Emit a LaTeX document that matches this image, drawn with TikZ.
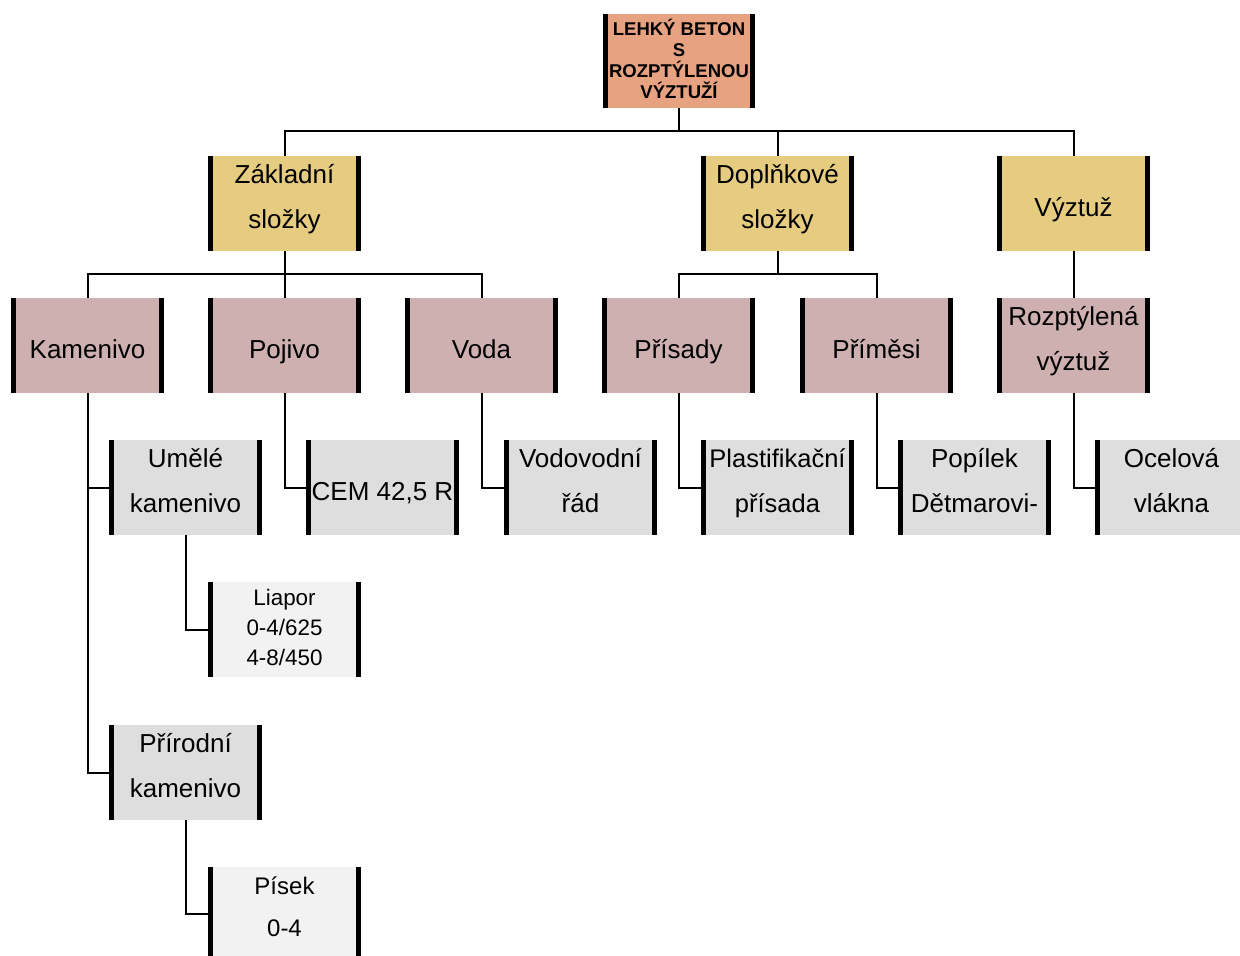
\documentclass[tikz,border=0pt]{standalone}
\usepackage{fontspec}
\setmainfont{Liberation Sans}
\definecolor{topc}{RGB}{231,162,130}
\definecolor{yelc}{RGB}{230,204,128}
\definecolor{pinkc}{RGB}{206,176,177}
\definecolor{greyc}{RGB}{222,222,222}
\definecolor{lightc}{RGB}{242,242,242}
\newcommand{\myst}{\vphantom{Ďy}}
\tikzset{
  bx/.style={minimum width=153pt, minimum height=95pt, inner sep=0pt, align=center,
    font=\fontsize{26}{45}\selectfont,
    execute at begin node=\myst, execute at end node=\myst,
    path picture={
      \fill[black] (path picture bounding box.south west) rectangle ([xshift=5pt]path picture bounding box.north west);
      \fill[black] (path picture bounding box.south east) rectangle ([xshift=-5pt]path picture bounding box.north east);
    }},
  oneline/.style={execute at begin node={\myst\rule{0pt}{32pt}}},
  twoline/.style={execute at end node={\myst\rule[-14pt]{0pt}{0pt}}},
  threeline/.style={execute at begin node={\myst\rule{0pt}{26pt}}},
  topbox/.style={bx, fill=topc, minimum width=152pt, minimum height=94pt, font=\fontsize{18.5}{21}\selectfont\bfseries},
  yelbox/.style={bx, fill=yelc},
  pinkbox/.style={bx, fill=pinkc},
  greybox/.style={bx, fill=greyc},
  lightbox/.style={bx, fill=lightc},
  conn/.style={draw=black, line width=2pt}
}
\begin{document}
\begin{tikzpicture}[x=1pt,y=-1pt]
\useasboundingbox (0,0) rectangle (1240,956);
\node[topbox] (top) at (679,61) {LEHKÝ BETON\\S\\ROZPTÝLENOU\\VÝZTUŽÍ};
\node[yelbox, twoline] (zak) at (284.5,203.5) {Základní\\složky};
\node[yelbox, twoline] (dop) at (777.5,203.5) {Doplňkové\\složky};
\node[yelbox, oneline] (vyz) at (1073.5,203.5) {Výztuž};
\node[pinkbox, oneline] (kam) at (87.5,345.5) {Kamenivo};
\node[pinkbox, oneline] (poj) at (284.5,345.5) {Pojivo};
\node[pinkbox, oneline] (voda) at (481.5,345.5) {Voda};
\node[pinkbox, oneline] (pris) at (678.5,345.5) {Přísady};
\node[pinkbox, oneline] (prim) at (876.5,345.5) {Příměsi};
\node[pinkbox, twoline] (rozp) at (1073.5,345.5) {Rozptýlená\\výztuž};
\node[greybox, twoline] (umele) at (185.5,487.5) {Umělé\\kamenivo};
\node[greybox, oneline] (cem) at (382.5,487.5) {CEM 42,5 R};
\node[greybox, twoline] (vodo) at (580.5,487.5) {Vodovodní\\řád};
\node[greybox, twoline, font=\fontsize{25.5}{45}\selectfont] (plast) at (777.5,487.5) {Plastifikační\\přísada};
\node[greybox, twoline] (popil) at (974.5,487.5) {Popílek\\Dětmarovi-};
\node[greybox, twoline] (ocel) at (1171.5,487.5) {Ocelová\\vlákna};
\node[lightbox, threeline, font=\fontsize{22.4}{30}\selectfont] (liapor) at (284.5,629.5) {Liapor\\0-4/625\\4-8/450};
\node[greybox, twoline] (prir) at (185.5,772.5) {Přírodní\\kamenivo};
\node[lightbox, twoline, font=\fontsize{24}{42}\selectfont] (pisek) at (284.5,914) {Písek\\0-4};
\coordinate (busA) at (0,131);
\coordinate (busB) at (0,274);
% level 1
\draw[conn] (top.south) -- (top.south |- busA);
\draw[conn] (zak.north) -- (zak.north |- busA) -- (vyz.north |- busA) -- (vyz.north);
\draw[conn] (dop.north) -- (dop.north |- busA);
% level 2
\draw[conn] (zak.south) -- (zak.south |- busB);
\draw[conn] (kam.north) -- (kam.north |- busB) -- (voda.north |- busB) -- (voda.north);
\draw[conn] (poj.north) -- (poj.north |- busB);
\draw[conn] (dop.south) -- (dop.south |- busB);
\draw[conn] (pris.north) -- (pris.north |- busB) -- (prim.north |- busB) -- (prim.north);
\draw[conn] (vyz.south) -- (rozp.north);
% level 3
\draw[conn] (kam.south) -- (kam.south |- prir.west) -- (prir.west);
\draw[conn] (kam.south |- umele.west) -- (umele.west);
\draw[conn] (poj.south) |- (cem.west);
\draw[conn] (voda.south) |- (vodo.west);
\draw[conn] (pris.south) |- (plast.west);
\draw[conn] (prim.south) |- (popil.west);
\draw[conn] (rozp.south) |- (ocel.west);
% level 4
\draw[conn] (umele.south) |- (liapor.west);
\draw[conn] (prir.south) |- (pisek.west);
\end{tikzpicture}
\end{document}
